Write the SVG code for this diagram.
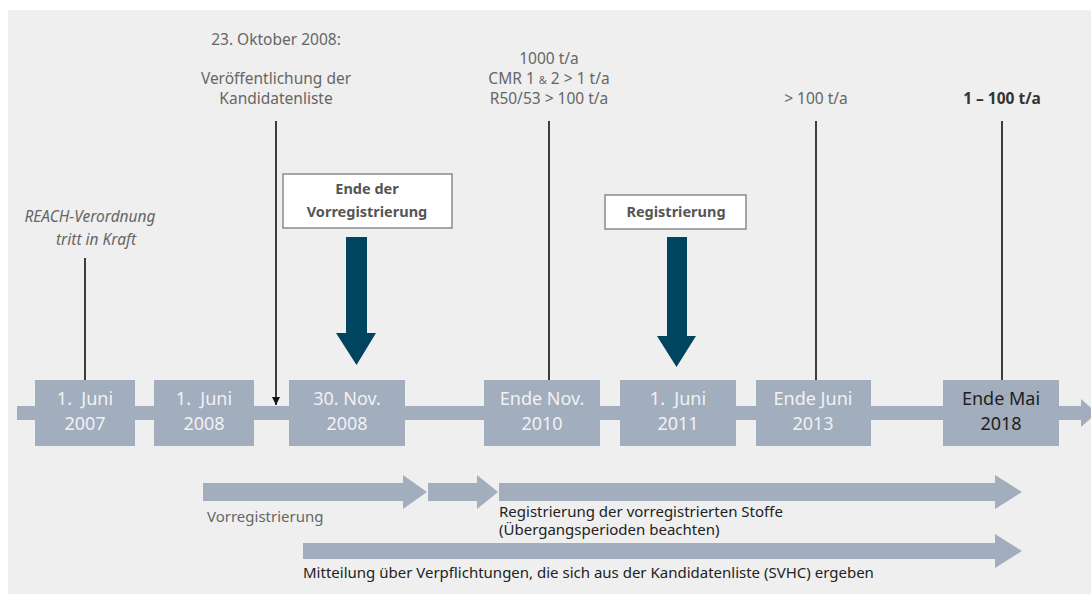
<svg xmlns="http://www.w3.org/2000/svg" width="1091" height="594" viewBox="0 0 1091 594">
<defs>
<style>
.bg{fill:#efefef}
.tl{fill:#a2adbd}
.dt{font-family:"Noto Sans","Open Sans",sans-serif;font-size:18px;fill:#f1f2f4;text-anchor:middle;white-space:pre}
.dk{fill:#1e1e1e}
.top{font-family:"Noto Sans","Open Sans",sans-serif;font-size:15.5px;fill:#666;text-anchor:middle}
.it{font-style:italic}
.bd{font-weight:bold;fill:#333}
.lbl{font-family:"Noto Sans","Open Sans",sans-serif;font-size:15px;fill:#222}
.gr{fill:#666}
.box{fill:#fff;stroke:#8a8a8a;stroke-width:1.5}
.bt{font-family:"Noto Sans","Open Sans",sans-serif;font-size:14.5px;font-weight:bold;fill:#555;text-anchor:middle}
.big{fill:#00445f}
.ln{stroke:#111;stroke-width:1.6;fill:none}
</style>
<marker id="ah" viewBox="0 0 10 10" refX="10" refY="5" markerWidth="8" markerHeight="8" markerUnits="userSpaceOnUse" orient="auto">
<path d="M0,0 L10,5 L0,10 Z" fill="#111"/>
</marker>
</defs>
<rect class="bg" x="8" y="10" width="1083" height="584"/>

<g id="timeline">
<path class="tl" d="M17,406 H1081 V399 L1097,413 L1081,427 V420 H17 Z"/>
</g>

<g id="connectors">
<line class="ln" x1="85" y1="258" x2="85" y2="380"/>
<line class="ln" x1="276" y1="121" x2="276" y2="405" marker-end="url(#ah)"/>
<line class="ln" x1="549" y1="121" x2="549" y2="380"/>
<line class="ln" x1="816" y1="121" x2="816" y2="380"/>
<line class="ln" x1="1002" y1="121" x2="1002" y2="380"/>
</g>

<g id="d2007"><rect class="tl" x="35" y="380" width="100" height="66"/><text class="dt" x="85" y="405">1.  Juni</text><text class="dt" x="85" y="430">2007</text></g>
<g id="d2008"><rect class="tl" x="154" y="380" width="100" height="66"/><text class="dt" x="204" y="405">1.  Juni</text><text class="dt" x="204" y="430">2008</text></g>
<g id="d2008b"><rect class="tl" x="289" y="380" width="116" height="66"/><text class="dt" x="347" y="405">30. Nov.</text><text class="dt" x="347" y="430">2008</text></g>
<g id="d2010"><rect class="tl" x="484" y="380" width="116" height="66"/><text class="dt" x="542" y="405">Ende Nov.</text><text class="dt" x="542" y="430">2010</text></g>
<g id="d2011"><rect class="tl" x="620" y="380" width="116" height="66"/><text class="dt" x="678" y="405">1.  Juni</text><text class="dt" x="678" y="430">2011</text></g>
<g id="d2013"><rect class="tl" x="756" y="380" width="115" height="66"/><text class="dt" x="813" y="405">Ende Juni</text><text class="dt" x="813" y="430">2013</text></g>
<g id="d2018"><rect class="tl" x="943" y="380" width="116" height="66"/><text class="dt dk" x="1001" y="405">Ende Mai</text><text class="dt dk" x="1001" y="430">2018</text></g>

<g id="reach"><text class="top it" x="90" y="222">REACH-Verordnung</text><text class="top it" x="96" y="245">tritt in Kraft</text></g>
<g id="kandidatenliste"><text class="top" x="276" y="45">23. Oktober 2008:</text><text class="top" x="276" y="84">Veröffentlichung der</text><text class="top" x="276" y="104">Kandidatenliste</text></g>
<g id="t1000"><text class="top" x="549" y="64">1000 t/a</text><text class="top" x="549" y="84">CMR 1 <tspan font-size="11">&amp;</tspan> 2 &gt; 1 t/a</text><text class="top" x="549" y="104">R50/53 &gt; 100 t/a</text></g>
<g id="t100"><text class="top" x="816" y="104">&gt; 100 t/a</text></g>
<g id="t1100"><text class="top bd" x="1002" y="104">1 – 100 t/a</text></g>

<g id="endeVorreg">
<rect class="box" x="283" y="174" width="169" height="54"/>
<text class="bt" x="367" y="194">Ende der</text>
<text class="bt" x="367" y="217">Vorregistrierung</text>
<path class="big" d="M346,237 H367 V333 H376 L356.5,365 L336,333 H346 Z"/>
</g>
<g id="registrierung">
<rect class="box" x="605" y="195" width="141" height="34"/>
<text class="bt" x="676" y="217">Registrierung</text>
<path class="big" d="M667,237 H687 V336 H696 L676.5,367 L657,336 H667 Z"/>
</g>

<g id="pVorreg">
<path class="tl" d="M203,483 H403 V475 L427,492 L403,509 V501 H203 Z"/>
<path class="tl" d="M428,483 H477 V475 L498,492 L477,509 V501 H428 Z"/>
<text class="lbl gr" x="207" y="522">Vorregistrierung</text>
</g>
<g id="pReg">
<path class="tl" d="M499,483 H995 V475 L1022,492 L995,509 V501 H499 Z"/>
<text class="lbl" x="499" y="517">Registrierung der vorregistrierten Stoffe</text>
<text class="lbl" x="499" y="535">(Übergangsperioden beachten)</text>
</g>
<g id="pMitteilung">
<path class="tl" d="M303,543 H995 V534 L1022,551 L995,568 V559 H303 Z"/>
<text class="lbl" x="303" y="578">Mitteilung über Verpflichtungen, die sich aus der Kandidatenliste (SVHC) ergeben</text>
</g>
</svg>
